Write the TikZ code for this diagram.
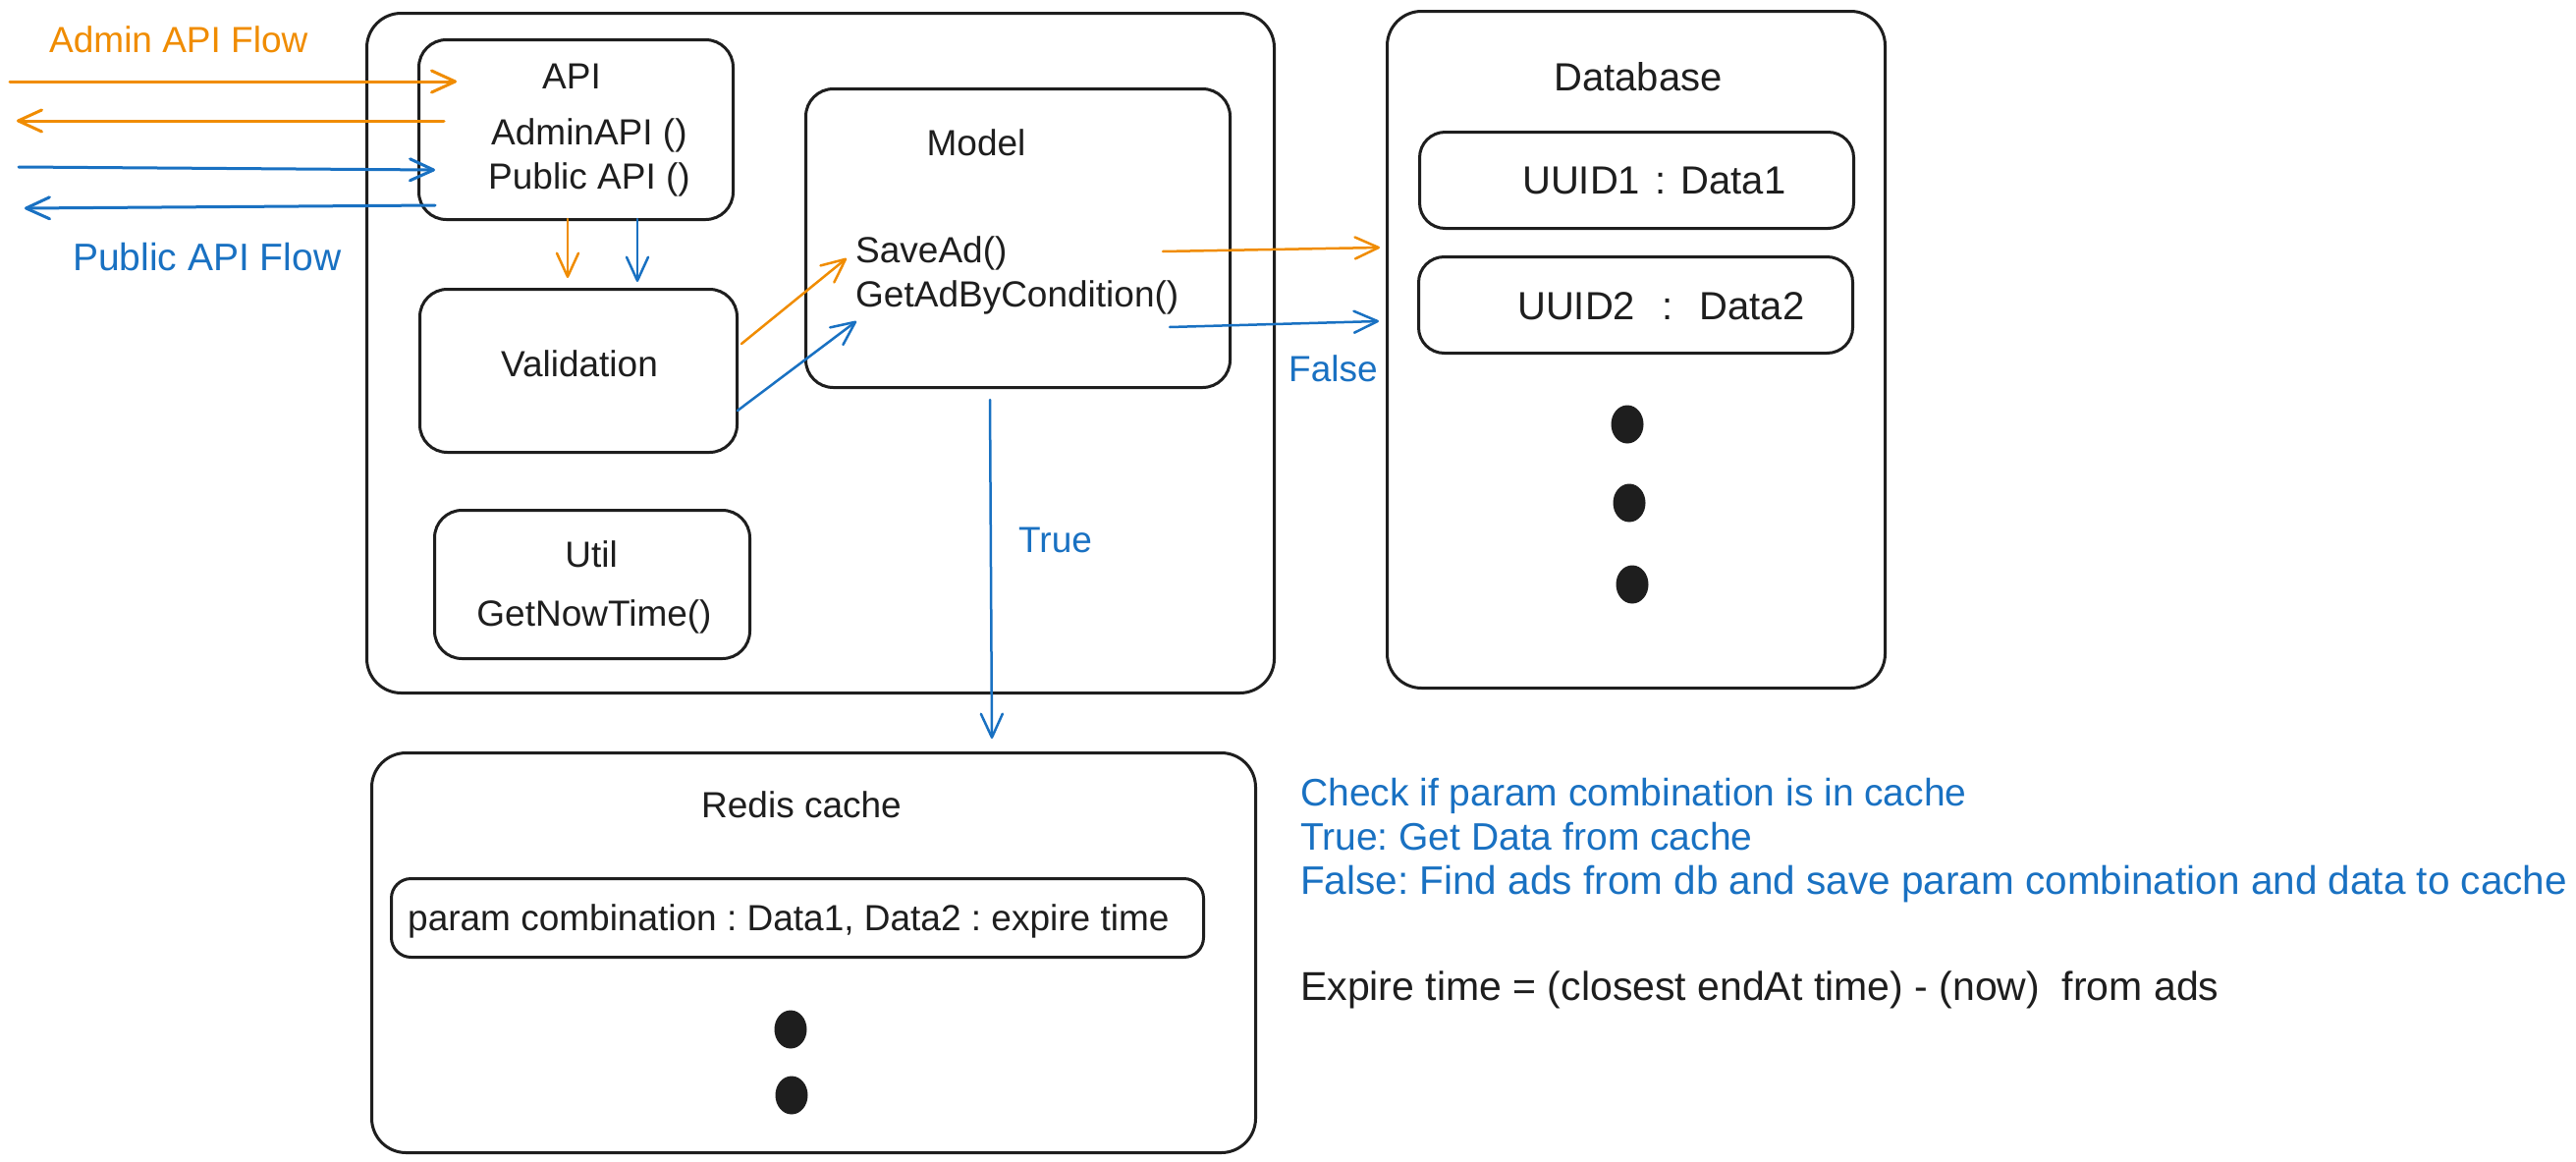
\documentclass[tikz,border=0pt]{standalone}
\usepackage{fontspec}
\setmainfont{Liberation Sans}
\usetikzlibrary{arrows.meta,shapes.geometric}
\definecolor{ink}{HTML}{1E1E1E}
\definecolor{orng}{HTML}{F08C00}
\definecolor{blu}{HTML}{1971C2}
\frenchspacing
\tikzset{
  box/.style={draw=ink, line width=3pt, rounded corners=28pt, inner sep=0pt, anchor=north west},
  txt/.style={font=\fontsize{37}{44}\selectfont, text=ink, inner sep=0pt},
  otxt/.style={txt, text=orng},
  btxt/.style={txt, text=blu},
  notetxt/.style={txt, font=\fontsize{39}{46}\selectfont},
  dbtxt/.style={txt, font=\fontsize{40}{46}\selectfont},
  flow/.style={line width=2.5pt, line cap=round, -{Straight Barb[length=24pt,width=22pt,round]}},
  oflow/.style={flow, draw=orng},
  bflow/.style={flow, draw=blu},
  dot/.style={ellipse, fill=ink, draw=none, minimum width=33pt, minimum height=39pt, inner sep=0pt},
}
\begin{document}
\begin{tikzpicture}[x=1pt,y=-1pt]
\fill[white] (0,0) rectangle (2623,1183);
\useasboundingbox (0,0) rectangle (2623,1183);

% boxes
\node[box, rounded corners=35pt, minimum width=924pt, minimum height=692pt] (outer) at (372,12) {};
\node[box, minimum width=320pt, minimum height=183pt] (api) at (425,39) {};
\node[box, minimum width=323pt, minimum height=166pt] (valid) at (426,293) {};
\node[box, minimum width=321pt, minimum height=151pt] (util) at (441,518) {};
\node[box, minimum width=432pt, minimum height=304pt] (model) at (819,89) {};
\node[box, rounded corners=35pt, minimum width=507pt, minimum height=689pt] (db) at (1411,10) {};
\node[box, rounded corners=26pt, minimum width=442pt, minimum height=98pt] (uuid1) at (1444,133) {};
\node[box, rounded corners=26pt, minimum width=442pt, minimum height=98pt] (uuid2) at (1443,260) {};
\node[box, rounded corners=35pt, minimum width=900pt, minimum height=407pt] (redis) at (377,765) {};
\node[box, rounded corners=20pt, minimum width=827pt, minimum height=80pt] (param) at (397,893) {};

% texts
\node[otxt, anchor=base west] (adminflow) at (50,53) {Admin API Flow};
\node[btxt, anchor=base west, font=\fontsize{39}{46}\selectfont] (publicflow) at (74,275) {Public API Flow};
\node[txt, anchor=base] (apit) at (582,90) {API};
\node[txt, anchor=base west] (adminapi) at (500,147) {AdminAPI ()};
\node[txt, anchor=base west] (publicapi) at (497,192) {Public API ()};
\node[txt, anchor=base] (validt) at (590,383) {Validation};
\node[txt, anchor=base] (utilt) at (602,577) {Util};
\node[txt, anchor=base] (nowt) at (605,637) {GetNowTime()};
\node[txt, anchor=base] (modelt) at (994,158) {Model};
\node[txt, anchor=base west] (savead) at (871,267) {SaveAd()};
\node[txt, anchor=base west] (getad) at (871,312) {GetAdByCondition()};
\node[dbtxt, anchor=base] (dbt) at (1668,92) {Database};
\node[dbtxt, anchor=base west] (u1t) at (1550,197) {UUID1\hspace{4pt} :\hspace{4pt} Data1};
\node[dbtxt, anchor=base west] (u2t) at (1545,325) {UUID2\hspace{16pt} :\hspace{16pt} Data2};
\node[btxt, anchor=base west] (falset) at (1312,388) {False};
\node[btxt, anchor=base west] (truet) at (1037,562) {True};
\node[txt, anchor=base] (redist) at (816,832) {Redis cache};
\node[txt, anchor=base west] (paramt) at (415,947) {param combination : Data1, Data2 : expire time};
\node[notetxt, text=blu, anchor=base west] (note1) at (1324,820) {Check if param combination is in cache};
\node[notetxt, text=blu, anchor=base west] (note2) at (1324,865) {True: Get Data from cache};
\node[notetxt, text=blu, anchor=base west, font=\fontsize{40.5}{46}\selectfont] (note3) at (1324,910) {False: Find ads from db and save param combination and data to cache};
\node[notetxt, anchor=base west, font=\fontsize{41}{46}\selectfont] (note4) at (1324,1018) {Expire time = (closest endAt time) - (now)\ \ from ads};

% dots
\node[dot] (dbd1) at (1657,432) {};
\node[dot] (dbd2) at (1659,512) {};
\node[dot] (dbd3) at (1662,595) {};
\node[dot] (rd1) at (805,1048) {};
\node[dot] (rd2) at (806,1115) {};

% arrow end points
\coordinate (a1s) at (10,83);   \coordinate (a1e) at (465,83);
\coordinate (a2s) at (452,123); \coordinate (a2e) at (17,123);
\coordinate (a3s) at (19,170);  \coordinate (a3e) at (443,173);
\coordinate (a4s) at (443,209); \coordinate (a4e) at (25,212);
\coordinate (a5s) at (578,223); \coordinate (a5e) at (578,283);
\coordinate (a6s) at (649,223); \coordinate (a6e) at (649,287);
\coordinate (a7s) at (755,350); \coordinate (a7e) at (862,263);
\coordinate (a8s) at (751,418); \coordinate (a8e) at (872,327);
\coordinate (a9s) at (1184,256); \coordinate (a9e) at (1405,252);
\coordinate (a10s) at (1191,333); \coordinate (a10e) at (1404,327);
\coordinate (a11s) at (1008,407); \coordinate (a11e) at (1010,752);

\draw[oflow, line width=3pt] (a1s) -- (a1e);
\draw[oflow, line width=3pt] (a2s) -- (a2e);
\draw[bflow, line width=3pt] (a3s) -- (a3e);
\draw[bflow, line width=3pt] (a4s) -- (a4e);
\draw[oflow] (a5s) -- (a5e);
\draw[bflow] (a6s) -- (a6e);
\draw[oflow] (a7s) -- (a7e);
\draw[bflow] (a8s) -- (a8e);
\draw[oflow] (a9s) -- (a9e);
\draw[bflow] (a10s) -- (a10e);
\draw[bflow] (a11s) -- (a11e);
\end{tikzpicture}
\end{document}
